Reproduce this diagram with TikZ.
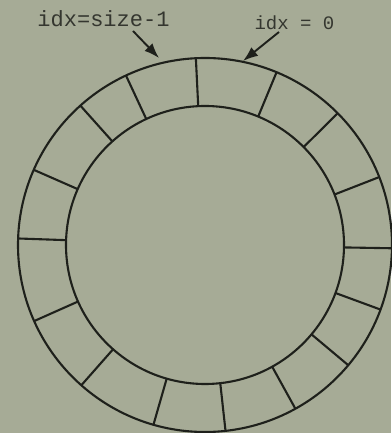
\documentclass[tikz,border=0pt]{standalone}
\usepackage{fontspec}
\setmonofont{Liberation Mono}
\usetikzlibrary{arrows.meta,calc}
\definecolor{paper}{RGB}{166,171,150}
\definecolor{ink}{RGB}{30,32,27}
\definecolor{textink}{RGB}{52,54,47}
\tikzset{
  ringline/.style={draw=ink, line width=2.1pt},
  lbl/.style={inner sep=0pt, anchor=base, text=textink, font=\ttfamily},
  pointer/.style={draw=ink, line width=1.9pt, -{Latex[length=15pt,width=11pt]}}
}
\begin{document}
\begin{tikzpicture}[x=1pt,y=1pt]
\useasboundingbox (0,0) rectangle (391,433);
\fill[paper] (0,0) rectangle (391,433);
\coordinate (c) at (205,188);
\draw[ringline] (c) circle (187);
\draw[ringline] (c) circle (139);
\foreach \a in {92.8,115,131.8,156.3,178,204,228.6,254,276.3,298.9,320,339.8,359,21.3,44.8,67.5}{
  \draw[ringline] ($(c)+(\a:139)$) -- ($(c)+(\a:187)$);
}
\node[lbl, font=\ttfamily\fontsize{22}{22}\selectfont] (l1) at (103.5,406) {idx=size-1};
\node[lbl, font=\ttfamily\fontsize{19}{19}\selectfont] (l2) at (294.5,403) {idx = 0};
\coordinate (t1) at (133,402);
\coordinate (h1) at (159,375);
\coordinate (t2) at (279,401);
\coordinate (h2) at (243,372);
\draw[pointer] (t1) -- (h1);
\draw[pointer] (t2) -- (h2);
\end{tikzpicture}
\end{document}
